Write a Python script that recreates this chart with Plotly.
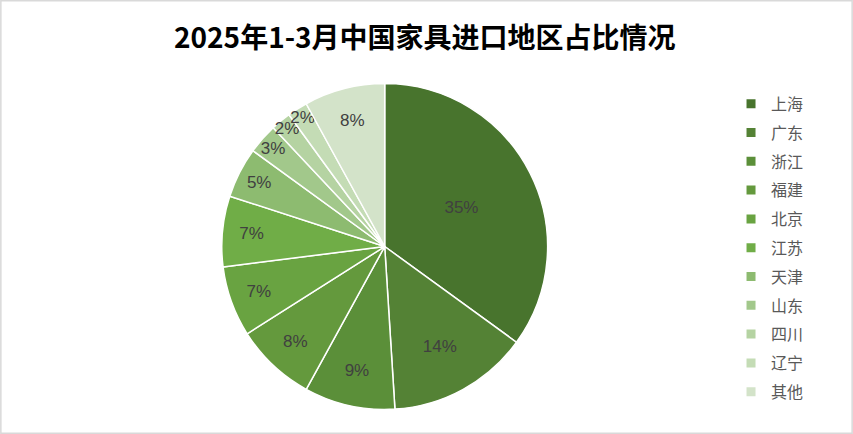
import plotly.graph_objects as go

regions = ["上海", "广东", "浙江", "福建", "北京", "江苏", "天津", "山东", "四川", "辽宁", "其他"]
shares = [35, 14, 9, 8, 7, 7, 5, 3, 2, 2, 8]
colors = ["#48742D", "#548235", "#5B8F39", "#64993D", "#69A341", "#70AD47",
          "#8DBB70", "#A2C88B", "#B5D3A2", "#C4DCB5", "#D3E3C9"]

fig = go.Figure(go.Pie(
    labels=regions,
    values=shares,
    sort=False,
    direction="clockwise",
    rotation=0,
    marker=dict(colors=colors, line=dict(color="white", width=1.5)),
    texttemplate="%{percent:.0%}",
    textposition="inside",
    insidetextorientation="horizontal",
    insidetextfont=dict(color="#404040", size=17, family="Liberation Sans, Noto Sans CJK SC"),
    domain=dict(x=[0.26, 0.642], y=[0.055, 0.809]),
    hoverinfo="label+percent",
    showlegend=False,
))

# legend entries (one per region so the spacing can be widened)
for name, col in zip(regions, colors):
    fig.add_trace(go.Scatter(
        x=[None], y=[None], mode="markers", name=name, legendgroup=name,
        marker=dict(symbol="square", size=9, color=col),
    ))

fig.update_layout(
    width=853, height=434,
    margin=dict(l=0, r=0, t=0, b=0),
    paper_bgcolor="white",
    plot_bgcolor="white",
    xaxis=dict(visible=False),
    yaxis=dict(visible=False),
    uniformtext=dict(minsize=17, mode="show"),
    title=dict(
        text="<b>2025年1-3月中国家具进口地区占比情况</b>",
        x=0.498, xanchor="center", y=0.912, yanchor="middle",
        font=dict(size=28, color="black", family="Noto Sans CJK SC"),
    ),
    legend=dict(
        x=0.857, xanchor="left", y=0.80, yanchor="top",
        font=dict(size=16, color="#595959", family="Noto Sans CJK SC"),
        tracegroupgap=5, itemwidth=30,
    ),
    shapes=[dict(type="rect", xref="paper", yref="paper",
                 x0=0.001, y0=0.002, x1=0.999, y1=0.998,
                 line=dict(color="#D9D9D9", width=1.5))],
)

fig.write_html("out.html", config={"displayModeBar": False},
               post_script="document.body.style.margin='0';")
